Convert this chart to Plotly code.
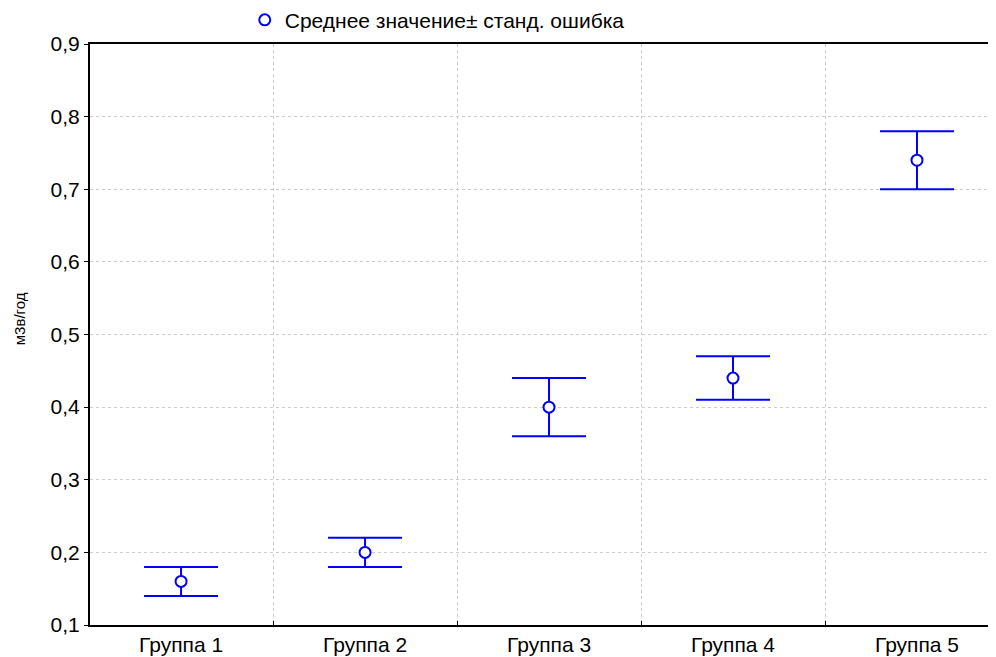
import plotly.graph_objects as go

groups = ["Группа 1", "Группа 2", "Группа 3", "Группа 4", "Группа 5"]
means = [0.16, 0.20, 0.40, 0.44, 0.74]
sem = [0.02, 0.02, 0.04, 0.03, 0.04]
positions = list(range(len(groups)))
y_ticks = [0.1, 0.2, 0.3, 0.4, 0.5, 0.6, 0.7, 0.8, 0.9]

blue = "#0000FF"
font = "Liberation Sans, Arial, sans-serif"

fig = go.Figure()
fig.add_trace(go.Scatter(
    x=positions, y=means, mode="markers",
    name="Среднее значение± станд. ошибка",
    marker=dict(symbol="circle", size=11, color="white", line=dict(color=blue, width=2)),
    error_y=dict(type="data", array=sem, visible=True, color=blue, thickness=2, width=37),
))

fig.update_layout(
    width=988, height=649,
    margin=dict(l=82, r=1, t=36, b=32, autoexpand=False),
    paper_bgcolor="white", plot_bgcolor="white",
    separators=", ",
    font=dict(family=font, size=21, color="black"),
    showlegend=True,
    legend=dict(x=0.171, y=1.041, xanchor="left", yanchor="middle",
                orientation="h", font=dict(size=21), bgcolor="rgba(0,0,0,0)"),
    xaxis=dict(
        range=[-0.495, 4.424], tickmode="array", tickvals=positions, ticktext=groups,
        showgrid=False, zeroline=False, ticks="",
        showline=True, linecolor="black", linewidth=2, mirror=True,
        minor=dict(tickmode="array", tickvals=[0.5, 1.5, 2.5, 3.5], showgrid=True,
                   gridcolor="#cccccc", griddash="dot", gridwidth=1,
                   ticks="inside", ticklen=4, tickcolor="black", tickwidth=1),
        tickfont=dict(size=21),
    ),
    yaxis=dict(
        range=[0.1, 0.9], tickmode="array", tickvals=y_ticks, tickformat=".1f",
        showgrid=True, gridcolor="#cccccc", griddash="dot", gridwidth=1,
        zeroline=False, ticks="outside", ticklen=4, tickcolor="black", tickwidth=1,
        showline=True, linecolor="black", linewidth=2,
        tickfont=dict(size=21),
    ),
    annotations=[dict(
        text="м3в/год", textangle=-90, showarrow=False,
        xref="paper", yref="paper", x=-0.0785, y=0.528,
        xanchor="center", yanchor="middle", font=dict(size=15),
    )],
)

fig.write_html("out.html")
